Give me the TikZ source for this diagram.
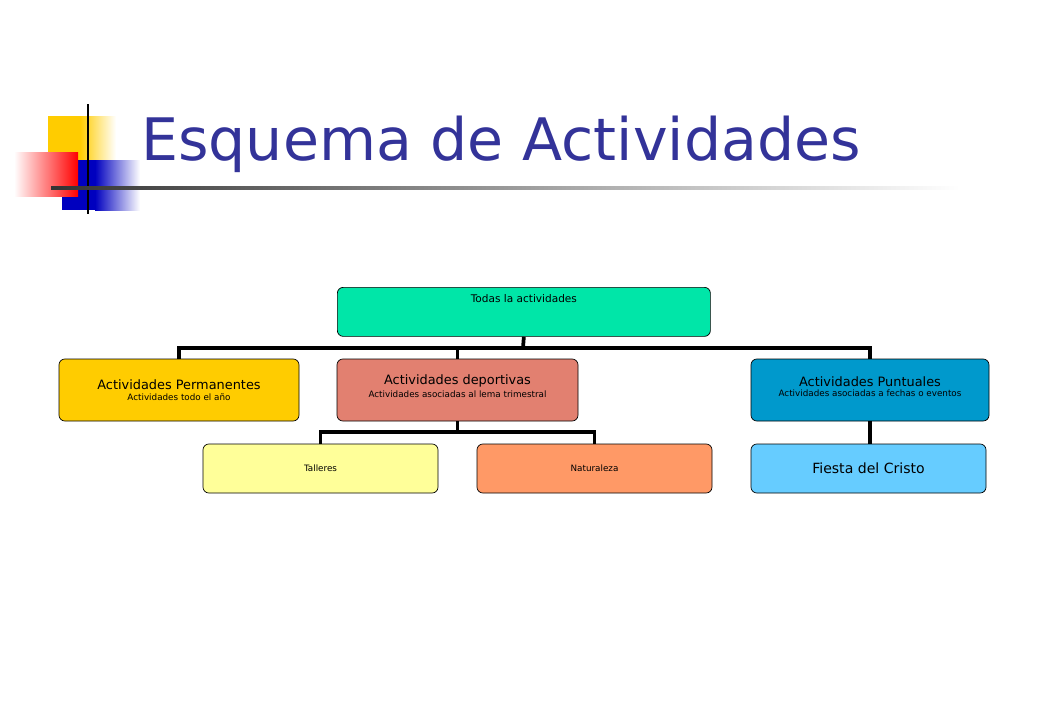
\documentclass[tikz,border=0pt]{standalone}
\usepackage{fontspec}
\setmainfont{DejaVu Sans}
\usetikzlibrary{positioning}
\definecolor{titleblue}{RGB}{51,51,153}
\definecolor{rootgreen}{RGB}{0,230,168}
\definecolor{permyellow}{RGB}{255,204,0}
\definecolor{deportred}{RGB}{226,128,112}
\definecolor{puntblue}{RGB}{0,153,204}
\definecolor{tallyellow}{RGB}{255,255,153}
\definecolor{natorange}{RGB}{255,153,102}
\definecolor{fiestablue}{RGB}{102,204,255}
\tikzset{
  orgbox/.style={draw, rounded corners=5pt, line width=0.6pt, inner sep=2pt,
    align=center, font=\fontsize{9}{10}\selectfont},
  link/.style={line width=3.2pt}
}
\begin{document}
\begin{tikzpicture}[x=0.03cm,y=-0.03cm]
    \useasboundingbox (0,0) rectangle (1040,720);

    % Logo
    \fill[permyellow] (48,116) rectangle (80,178);
    \shade[left color=permyellow, right color=white] (80,116) rectangle (116,178);
    \fill[blue!75!black] (62,160) rectangle (95,210);
    \shade[left color=blue!75!black, right color=white] (95,160) rectangle (140,210);
    \shade[left color=white, right color=red] (14,152) rectangle (78,196);
    \draw[line width=2pt] (88,104) -- (88,214);
    \shade[left color=black!80, right color=white] (51,186.5) rectangle (960,189);

    % Title
    \node[anchor=base west, text=titleblue, inner sep=0pt,
          font=\fontsize{50}{55}\selectfont] (title) at (141,160) {Esquema de Actividades};

    % Boxes
    \node[orgbox, fill=rootgreen, minimum width=373*0.03cm, minimum height=49*0.03cm,
          anchor=north west, text height=2.3ex] (todas) at (337,287)
          {\raisebox{14pt}{Todas la actividades}};
    \node[orgbox, fill=permyellow, minimum width=240*0.03cm, minimum height=62*0.03cm]
          (perm) at (179,390)
          {{\fontsize{11}{12}\selectfont Actividades Permanentes}\\[-1pt]{\fontsize{7.5}{8}\selectfont Actividades todo el año}};
    \node[orgbox, fill=deportred, minimum width=241*0.03cm, minimum height=62*0.03cm]
          (deport) at (457.5,390)
          {\raisebox{6pt}{\shortstack{{\fontsize{11}{12}\selectfont Actividades deportivas}\\{\fontsize{7.5}{8}\selectfont Actividades asociadas al lema trimestral}}}};
    \node[orgbox, fill=puntblue, minimum width=238*0.03cm, minimum height=62*0.03cm]
          (punt) at (870,390)
          {\raisebox{6pt}{\shortstack{{\fontsize{11}{12}\selectfont Actividades Puntuales}\\{\fontsize{7.5}{8}\selectfont Actividades asociadas a fechas o eventos}}}};
    \node[orgbox, fill=tallyellow, minimum width=235*0.03cm, minimum height=49*0.03cm,
          font=\fontsize{7.5}{8}\selectfont] (talleres) at (320.5,468.5) {Talleres};
    \node[orgbox, fill=natorange, minimum width=235*0.03cm, minimum height=49*0.03cm,
          font=\fontsize{7.5}{8}\selectfont] (natur) at (594.5,468.5) {Naturaleza};
    \node[orgbox, fill=fiestablue, minimum width=235*0.03cm, minimum height=49*0.03cm,
          font=\fontsize{12}{13}\selectfont] (fiesta) at (868.5,468.5) {Fiesta del Cristo};

    % Connectors
    \coordinate (bar1) at (523,348);
    \coordinate (bar2) at (457.5,432);
    \draw[link] (todas.south) -- (bar1);
    \draw[link] (perm.north) |- (bar1) -| (punt.north);
    \draw[link] (bar1) -| (deport.north);
    \draw[link] (deport.south) -- (bar2);
    \draw[link] (talleres.north) |- (bar2) -| (natur.north);
    \draw[link] (punt.south) -- (punt.south |- fiesta.north);
\end{tikzpicture}
\end{document}
